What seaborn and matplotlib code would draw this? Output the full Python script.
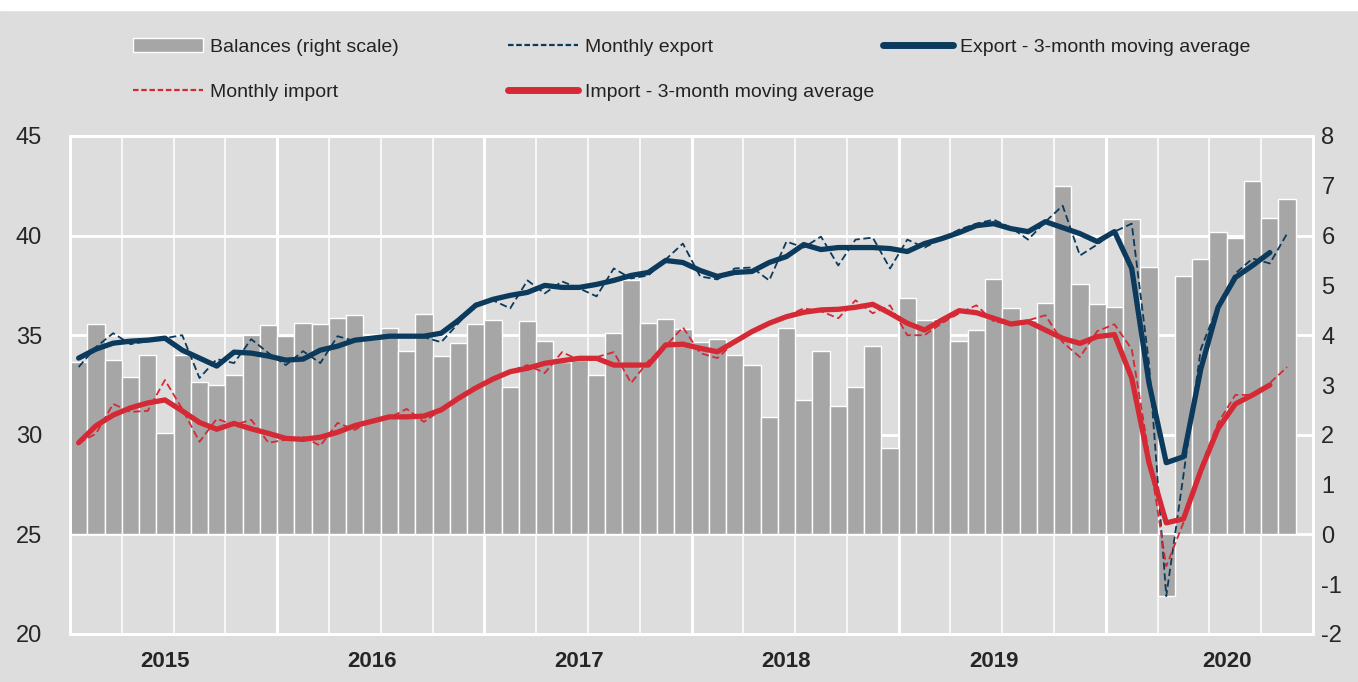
import numpy as np
import pandas as pd
import seaborn as sns
import matplotlib.pyplot as plt
from matplotlib.patches import Patch, Rectangle
from matplotlib.lines import Line2D

# monthly data, Jan 2015 - Nov 2020
months = pd.date_range("2015-01-01", periods=71, freq="MS")

balances = [3.46, 4.22, 3.50, 3.16, 3.60, 2.04, 3.60, 3.07, 2.99, 3.20, 4.00, 4.20,
            3.98, 4.25, 4.22, 4.35, 4.40, 4.00, 4.15, 3.69, 4.43, 3.58, 3.84, 4.22,
            4.30, 2.95, 4.28, 3.89, 3.47, 3.50, 3.20, 4.05, 5.10, 4.25, 4.33, 4.12,
            3.87, 3.92, 3.60, 3.40, 2.36, 4.14, 2.70, 3.69, 2.58, 2.95, 3.78, 1.73,
            4.75, 4.30, 4.33, 3.89, 4.10, 5.12, 4.54, 4.30, 4.64, 7.00, 5.03, 4.62,
            4.56, 6.33, 5.36, -1.24, 5.19, 5.54, 6.08, 5.95, 7.10, 6.35, 6.73]

export_monthly = [33.4, 34.4, 35.1, 34.55, 34.7, 34.85, 35.0, 32.85, 33.8, 33.6, 34.8, 34.1,
                  33.5, 34.2, 33.6, 34.95, 34.7, 34.85, 34.9, 34.95, 34.9, 34.65, 35.6, 36.6,
                  36.75, 36.35, 37.75, 37.1, 37.7, 37.35, 36.95, 38.35, 37.85, 38.0, 38.8, 39.6,
                  37.95, 37.8, 38.35, 38.4, 37.75, 39.7, 39.4, 39.95, 38.5, 39.8, 39.9, 38.35,
                  39.8, 39.4, 39.85, 40.3, 40.6, 40.8, 40.4, 39.8, 40.7, 41.5, 39.0, 39.55,
                  40.2, 40.6, 33.6, 21.9, 28.0, 34.3, 36.5, 38.1, 38.85, 38.6, 40.1]

import_monthly = [29.6, 30.05, 31.55, 31.15, 31.2, 32.75, 31.3, 29.65, 30.8, 30.5, 30.75, 29.6,
                  29.75, 29.9, 29.45, 30.6, 30.25, 30.75, 30.85, 31.3, 30.65, 31.25, 31.85, 32.35,
                  32.75, 33.2, 33.5, 33.1, 34.15, 33.75, 33.9, 34.15, 32.6, 33.7, 34.45, 35.4,
                  34.1, 33.85, 34.65, 35.15, 35.65, 35.95, 36.35, 36.2, 35.85, 36.75, 36.1, 36.5,
                  35.0, 35.0, 35.6, 36.1, 36.5, 35.7, 35.55, 35.75, 36.0, 34.65, 33.9, 35.2,
                  35.55, 34.3, 29.0, 23.4, 25.6, 28.4, 30.6, 32.0, 32.0, 32.6, 33.4]

# 3-month moving averages (Jan 2015 - Oct 2020)
export_ma = [33.85, 34.3, 34.6, 34.7, 34.75, 34.85, 34.25, 33.85, 33.45, 34.15, 34.1, 33.95,
             33.75, 33.8, 34.25, 34.45, 34.75, 34.85, 34.95, 34.95, 34.95, 35.1, 35.75, 36.5,
             36.8, 37.0, 37.15, 37.5, 37.4, 37.4, 37.55, 37.75, 38.0, 38.15, 38.75, 38.65,
             38.25, 37.95, 38.15, 38.2, 38.65, 38.95, 39.55, 39.3, 39.4, 39.4, 39.4, 39.35,
             39.2, 39.6, 39.85, 40.15, 40.5, 40.6, 40.35, 40.2, 40.7, 40.4, 40.1, 39.7,
             40.2, 38.35, 32.6, 28.6, 28.9, 33.3, 36.4, 37.9, 38.5, 39.15]

import_ma = [29.6, 30.45, 30.99, 31.35, 31.6, 31.75, 31.2, 30.62, 30.28, 30.57, 30.3, 30.07,
             29.82, 29.77, 29.88, 30.13, 30.46, 30.68, 30.9, 30.9, 30.94, 31.25, 31.83, 32.35,
             32.8, 33.17, 33.34, 33.59, 33.72, 33.84, 33.84, 33.5, 33.5, 33.5, 34.51, 34.55,
             34.34, 34.17, 34.67, 35.18, 35.6, 35.93, 36.15, 36.27, 36.3, 36.4, 36.55, 36.1,
             35.6, 35.26, 35.76, 36.23, 36.13, 35.85, 35.56, 35.68, 35.26, 34.84, 34.59, 34.93,
             35.03, 32.85, 28.6, 25.58, 25.78, 28.2, 30.3, 31.55, 32.0, 32.5]

labels = ["Balances (right scale)", "Monthly export", "Export - 3-month moving average",
          "Monthly import", "Import - 3-month moving average"]
year_labels = ["2015", "2016", "2017", "2018", "2019", "2020"]
year_label_pos = [5, 17, 29, 41, 53, 66.5]

bg = "#dddddd"
bar_color = "#a6a6a6"
navy = "#0b3a5c"
red = "#d52a35"

sns.set_style("white")
plt.rcParams["font.family"] = ["Liberation Sans", "DejaVu Sans"]
plt.rcParams["text.color"] = "#222222"

pos = np.arange(len(months))
n_slots = 72  # axis runs through Dec 2020

fig = plt.figure(figsize=(13.58, 6.82), dpi=100, facecolor=bg)
fig.patches.append(Rectangle((0, 672 / 682), 1, 10 / 682, transform=fig.transFigure,
                             color="white", zorder=0))
ax = fig.add_axes([70 / 1358, 48 / 682, 1243 / 1358, 498 / 682])
ax.set_facecolor(bg)

# bars on the right scale
sns.barplot(x=pos, y=balances, ax=ax, color=bar_color, width=1, edgecolor="white",
            linewidth=1, saturation=1, zorder=2)
ax.set_ylim(-2, 8)
ax.set_xlim(-0.5, n_slots - 0.5)

# grid
for v in [0, 2, 4, 6]:
    ax.axhline(v, color="white", lw=2, zorder=1)
for q in range(1, n_slots // 3):
    b = q * 3 - 0.5
    ax.axvline(b, color="white", lw=2.2 if q % 4 == 0 else 1.1, zorder=1)

# lines on the left scale
ax2 = ax.twinx()
sns.lineplot(x=pos, y=export_monthly, ax=ax2, color=navy, lw=1.3, linestyle="--",
             dashes=False, zorder=3)
sns.lineplot(x=pos, y=import_monthly, ax=ax2, color=red, lw=1.3, linestyle="--",
             dashes=False, zorder=3)
sns.lineplot(x=pos[:len(export_ma)], y=export_ma, ax=ax2, color=navy, lw=3.8,
             solid_capstyle="round", zorder=4)
sns.lineplot(x=pos[:len(import_ma)], y=import_ma, ax=ax2, color=red, lw=3.8,
             solid_capstyle="round", zorder=4)
for l in ax2.lines[:2]:
    l.set_dashes((4, 2))
ax2.set_ylim(20, 45)
ax2.yaxis.tick_left()
ax2.set_yticks(range(20, 46, 5))
ax2.tick_params(axis="y", length=0, labelsize=17, pad=20)
ax2.set_ylabel("")

ax.yaxis.tick_right()
ax.set_yticks(range(-2, 9))
ax.set_yticklabels([str(v) for v in range(-2, 9)])
ax.set_xticks(year_label_pos)
ax.set_xticklabels(year_labels, fontweight="bold", fontsize=16)
ax.tick_params(axis="both", length=0)
ax.tick_params(axis="y", labelsize=17, pad=6)
ax.tick_params(axis="x", pad=12)
ax.set_xlabel("")
ax.set_ylabel("")

for a in (ax, ax2):
    for s in a.spines.values():
        s.set_color("white")
        s.set_linewidth(2)

# legend, laid out in three columns
bar_h = Patch(facecolor=bar_color, edgecolor="white", linewidth=1)
h_exp = Line2D([], [], color=navy, lw=1.6, linestyle=(0, (2.5, 1.2)))
h_exp_ma = Line2D([], [], color=navy, lw=5, solid_capstyle="round")
h_imp = Line2D([], [], color=red, lw=1.6, linestyle=(0, (2.5, 1.2)))
h_imp_ma = Line2D([], [], color=red, lw=5, solid_capstyle="round")
cols = [([bar_h, h_imp], [labels[0], labels[3]], 133),
        ([h_exp, h_imp_ma], [labels[1], labels[4]], 508),
        ([h_exp_ma], [labels[2]], 883)]
for handles, labs, xpx in cols:
    fig.legend(handles, labs, loc="upper left", bbox_to_anchor=(xpx / 1358, 1 - 38 / 682),
               frameon=False, fontsize=14, handlelength=3.6, handleheight=0.75,
               handletextpad=0.35, labelspacing=1.38, borderpad=0, borderaxespad=0)

fig.savefig("out.png", dpi=100, facecolor=bg)
